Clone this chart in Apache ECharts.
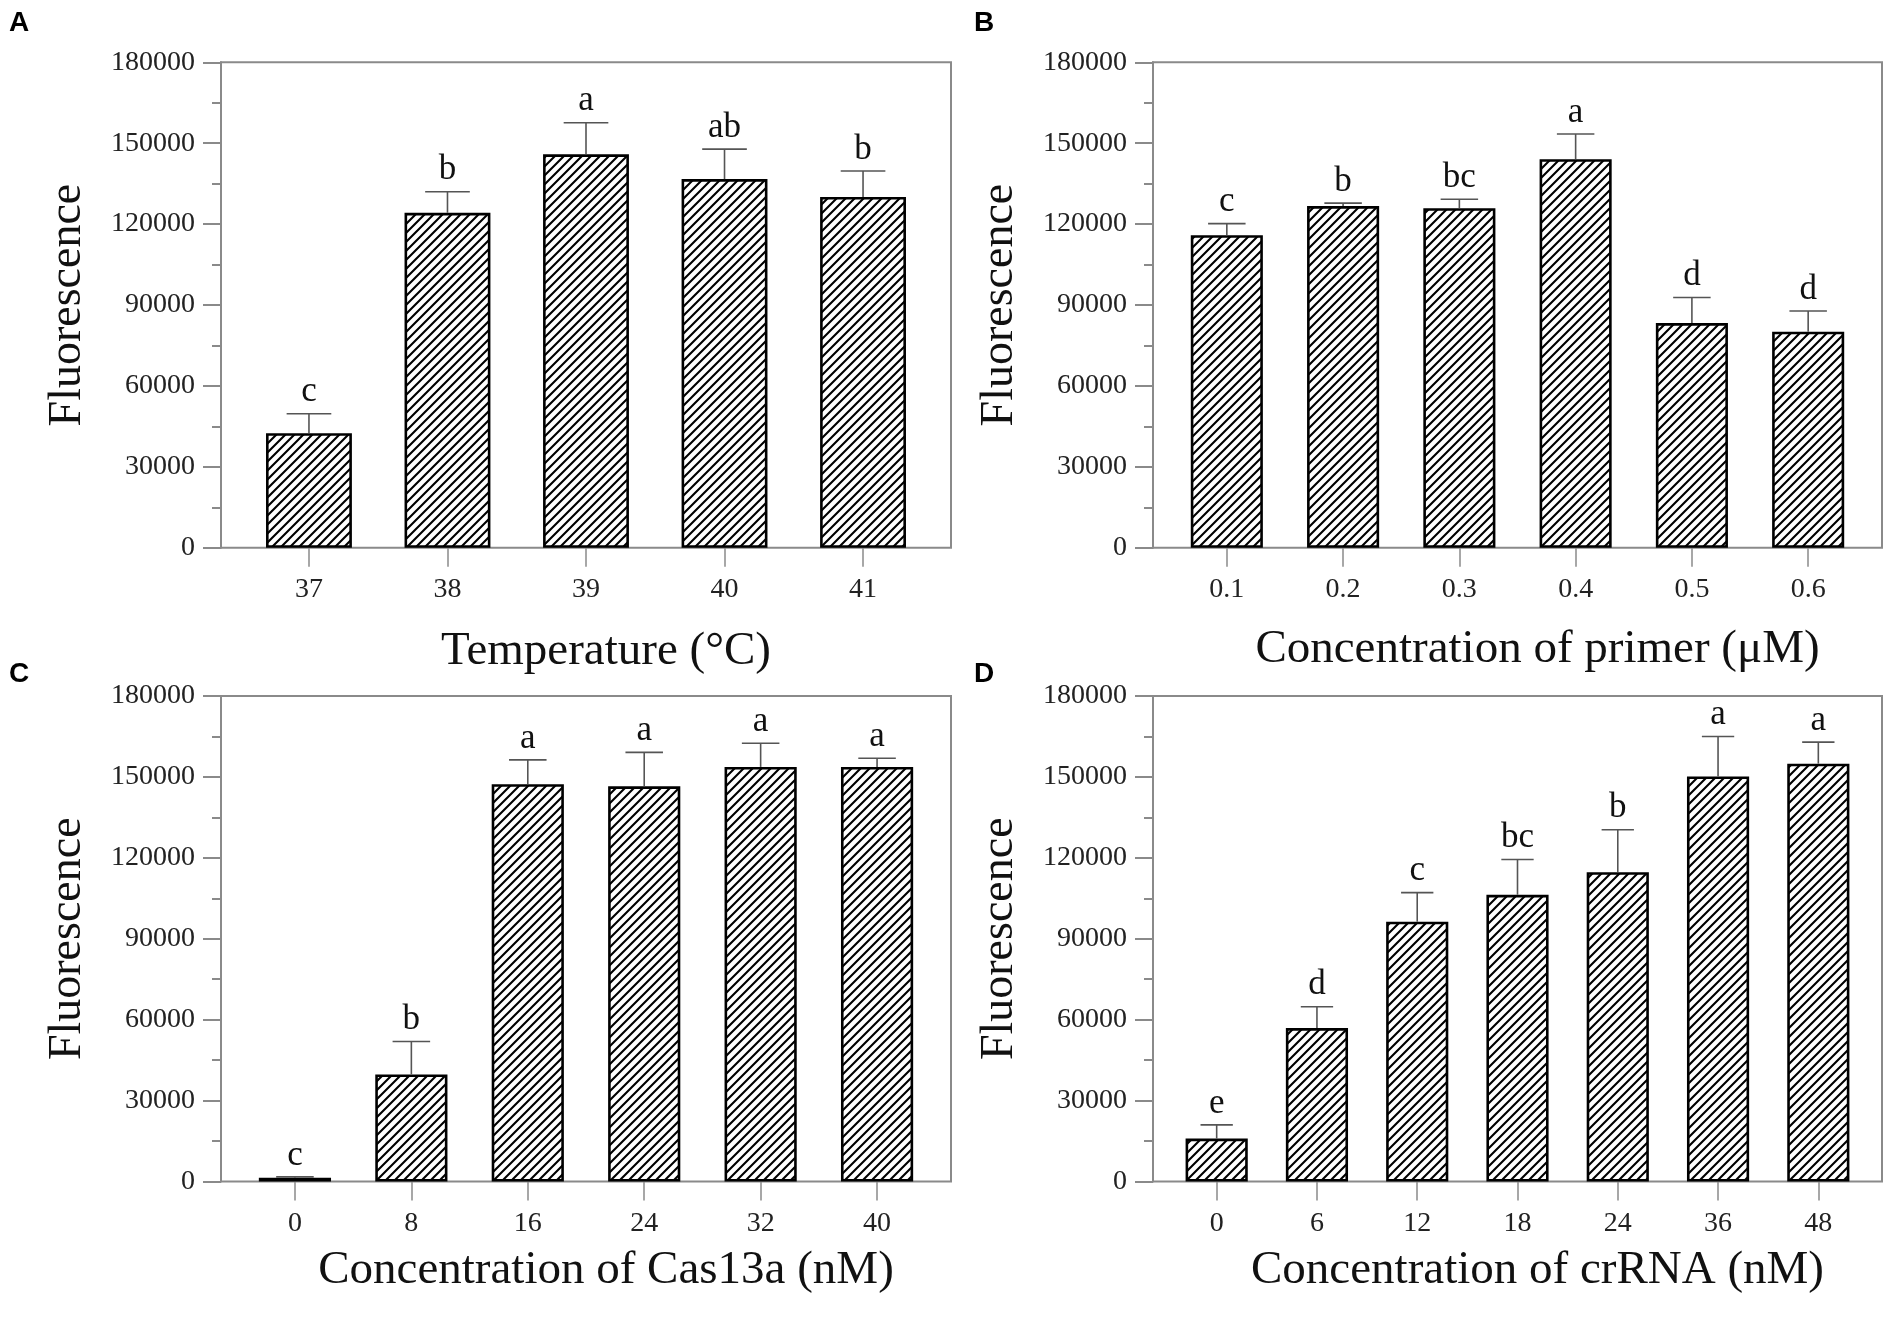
<!DOCTYPE html>
<html>
<head>
<meta charset="utf-8">
<script src="https://cdn.jsdelivr.net/npm/echarts@6/dist/echarts.min.js"></script>
<style>
html,body{margin:0;padding:0;background:#fff;}
#chart{width:1901px;height:1318px;}
</style>
</head>
<body>
<div id="chart"></div>
<script>
// ---------- DATA ----------
const yTicks = [0, 30000, 60000, 90000, 120000, 150000, 180000];

const catA = ['37', '38', '39', '40', '41'];
const meanA = [42500, 124200, 145900, 136700, 130100];
const errA = [7200, 7800, 11700, 11100, 9600];
const letA = ['c', 'b', 'a', 'ab', 'b'];

const catB = ['0.1', '0.2', '0.3', '0.4', '0.5', '0.6'];
const meanB = [115900, 126700, 125900, 144100, 83300, 80100];
const errB = [4300, 1100, 3300, 9300, 9500, 7700];
const letB = ['c', 'b', 'bc', 'a', 'd', 'd'];

const catC = ['0', '8', '16', '24', '32', '40'];
const meanC = [1400, 39700, 147300, 146500, 153700, 153700];
const errC = [300, 12200, 9000, 12600, 8800, 3200];
const letC = ['c', 'b', 'a', 'a', 'a', 'a'];

const catD = ['0', '6', '12', '18', '24', '36', '48'];
const meanD = [15900, 56900, 96300, 106300, 114700, 150200, 154900];
const errD = [5100, 7900, 10800, 13100, 15700, 14800, 8000];
const letD = ['e', 'd', 'c', 'bc', 'b', 'a', 'a'];

const titleY = 'Fluorescence';
const titlesX = ['Temperature (°C)', 'Concentration of primer (μM)', 'Concentration of Cas13a (nM)', 'Concentration of crRNA (nM)'];
const panelTags = ['A', 'B', 'C', 'D'];

// ---------- LAYOUT ----------
const panels = [
  {cats: catA, mean: meanA, err: errA, lets: letA, left: 221, top: 62.3, width: 730, nameGap: 80},
  {cats: catB, mean: meanB, err: errB, lets: letB, left: 1153, top: 62.3, width: 729, nameGap: 78},
  {cats: catC, mean: meanC, err: errC, lets: letC, left: 221, top: 696, width: 730, nameGap: 66},
  {cats: catD, mean: meanD, err: errD, lets: letD, left: 1153, top: 696, width: 729, nameGap: 66}
];
const plotH = 485.5;
const tagPos = [[9, 9], [974, 9], [9, 660], [974, 660]];

function makeHatch() {
  const w = 9, h = 9;
  const c = document.createElement('canvas');
  c.width = w; c.height = h;
  const g = c.getContext('2d');
  g.fillStyle = '#fff';
  g.fillRect(0, 0, w, h);
  g.strokeStyle = '#000';
  g.lineWidth = 2.1;
  g.beginPath();
  [-w, 0, w].forEach(dx => {
    g.moveTo(dx - w * 0.5, h * 1.5);
    g.lineTo(dx + w * 1.5, -h * 0.5);
  });
  g.stroke();
  return c;
}
const hatch = {image: makeHatch(), repeat: 'repeat'};

const serif = 'Liberation Serif';
const axisGray = '#8a8a8a';

const grid = [], xAxis = [], yAxis = [], series = [], graphic = [];

panels.forEach((p, k) => {
  const n = p.cats.length;
  const s = p.width / (n + 0.27);
  const inset = 0.135 * s;
  const fg = 2 * k, dg = 2 * k + 1;
  grid.push({left: p.left, top: p.top, width: p.width, height: plotH, show: true,
    borderColor: axisGray, borderWidth: 2, backgroundColor: 'transparent', containLabel: false});
  grid.push({left: p.left + inset, top: p.top, width: n * s, height: plotH, show: false, containLabel: false});

  xAxis.push({gridIndex: fg, type: 'value', show: false, min: 0, max: 1});
  yAxis.push({gridIndex: fg, type: 'value', min: yTicks[0], max: yTicks[yTicks.length - 1],
    interval: yTicks[1] - yTicks[0],
    axisLine: {show: true, lineStyle: {color: axisGray, width: 2}},
    axisTick: {show: true, inside: false, length: 18, lineStyle: {color: axisGray, width: 2}},
    minorTick: {show: true, splitNumber: 2, length: 9, lineStyle: {color: axisGray, width: 2}},
    splitLine: {show: false},
    axisLabel: {fontSize: 28, fontFamily: serif, color: '#222', margin: 26,
      formatter: v => String(v)},
    name: titleY, nameLocation: 'middle', nameGap: 130,
    nameTextStyle: {fontSize: 46, fontFamily: serif, color: '#111'}
  });

  xAxis.push({gridIndex: dg, type: 'category', data: p.cats, boundaryGap: true,
    axisLine: {show: false},
    axisTick: {show: true, alignWithLabel: true, length: 19, lineStyle: {color: axisGray, width: 1.5}},
    axisLabel: {fontSize: 28, fontFamily: serif, color: '#222', margin: 28},
    splitLine: {show: false},
    name: titlesX[k], nameLocation: 'middle', nameGap: p.nameGap,
    nameTextStyle: {fontSize: 47, fontFamily: serif, color: '#111', padding: [0, 0, 0, 40]}
  });
  yAxis.push({gridIndex: dg, type: 'value', min: yTicks[0], max: yTicks[yTicks.length - 1], show: false});

  series.push({
    type: 'bar', xAxisIndex: dg, yAxisIndex: dg, data: p.mean, barWidth: '62%',
    itemStyle: {color: hatch, borderColor: '#000', borderWidth: 2.6},
    emphasis: {disabled: true}, silent: true, z: 2
  });

  const lets = p.lets;
  series.push({
    type: 'custom', xAxisIndex: dg, yAxisIndex: dg, silent: true, z: 5,
    data: p.mean.map((m, i) => [i, m, p.err[i]]),
    encode: {x: 0, y: 1},
    renderItem: function (params, api) {
      const i = api.value(0), m = api.value(1), e = api.value(2);
      const base = api.coord([i, m]);
      const top = api.coord([i, m + e]);
      const bw = api.size([1, 0])[0] * 0.62;
      const hw = bw * 0.26;
      return {type: 'group', children: [
        {type: 'line', shape: {x1: base[0], y1: base[1], x2: top[0], y2: top[1]},
          style: {stroke: '#555', lineWidth: 1.6}},
        {type: 'line', shape: {x1: top[0] - hw, y1: top[1], x2: top[0] + hw, y2: top[1]},
          style: {stroke: '#555', lineWidth: 1.6}},
        {type: 'text', x: top[0], y: top[1] - 4,
          style: {text: lets[params.dataIndex], fontSize: 35, fontFamily: serif, fill: '#111',
            align: 'center', verticalAlign: 'bottom'}}
      ]};
    }
  });

  graphic.push({type: 'text', left: tagPos[k][0], top: tagPos[k][1],
    style: {text: panelTags[k], fontSize: 28, fontWeight: 'bold', fontFamily: 'Liberation Sans', fill: '#000'}});
});

const chart = echarts.init(document.getElementById('chart'), null, {renderer: 'canvas'});
chart.setOption({
  animation: false,
  backgroundColor: '#fff',
  grid, xAxis, yAxis, series, graphic
});
</script>
</body>
</html>
